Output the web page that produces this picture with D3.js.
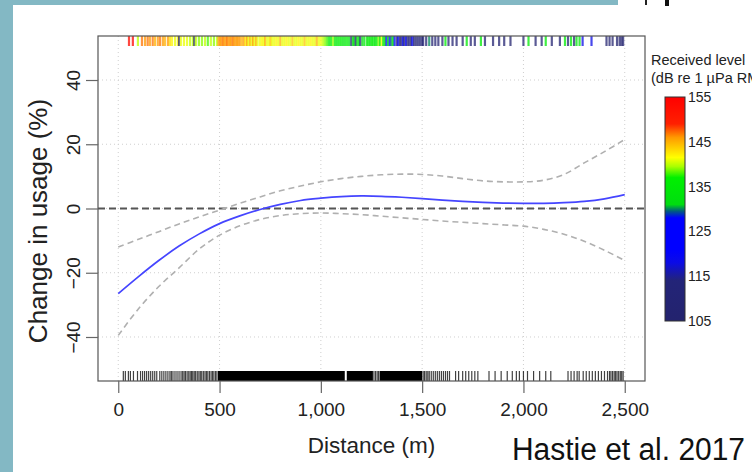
<!DOCTYPE html>
<html><head><meta charset="utf-8">
<script src="https://cdn.jsdelivr.net/npm/d3@7"></script>
<style>
html,body{margin:0;padding:0;background:#fff;overflow:hidden}
svg{display:block}
text{font-family:"Liberation Sans",Arial,Helvetica,sans-serif}
</style>
</head><body>
<svg id="chart" width="752" height="472"></svg>
<script>
// ---------------- data ----------------
const distances = [0,100,200,300,400,500,600,700,800,900,1000,1100,1200,1300,1400,1500,1600,1700,1800,1900,2000,2100,2200,2300,2400,2500];
const fitValues = [-26.5,-21.2,-16.2,-11.7,-7.9,-4.7,-2.3,-0.3,1.3,2.5,3.2,3.7,3.9,3.8,3.5,3.1,2.6,2.2,1.9,1.7,1.6,1.6,1.8,2.2,3.0,4.3];
const upperCI = [-12.0,-9.6,-7.2,-4.8,-2.6,-0.5,1.6,3.6,5.5,7.0,8.3,9.3,10.0,10.5,10.7,10.6,10.1,9.3,8.6,8.3,8.3,8.8,10.6,14.2,17.7,21.5];
const lowerCI = [-39.5,-31.2,-24.3,-18.5,-12.6,-8.3,-5.4,-3.4,-2.2,-1.6,-1.4,-1.6,-1.9,-2.4,-2.9,-3.4,-3.9,-4.3,-4.7,-5.1,-5.5,-6.5,-8.0,-10.2,-13.0,-16.2];

const xTicks = [0,500,1000,1500,2000,2500];
const yTicks = [-40,-20,0,20,40];
const legendTicks = [105,115,125,135,145,155];
const legendStops = [[105,"#23236e"],[114,"#232478"],[118,"#0b0be6"],[121,"#0000ff"],[128,"#0000ff"],[129.5,"#005a80"],[131,"#00dd10"],[137,"#00f000"],[139.5,"#aaff00"],[141.5,"#ffff00"],[146,"#ff9900"],[149,"#ff2000"],[155,"#ff0000"]];

// top rug: [distance (m), received level (dB)]
const topRug = [[53,153],[72,154],[97,140],[117,147],[132,146],[145,147],[156,146],[170,147],[181,145],[195,146],[206,147],[220,146],[230,145],[245,146],[255,143],
[265,142],[280,141],[294,142],[300,112],[309,141],[324,141],[339,141],[354,140],[368,140],[375,112],[383,140],[398,139],[413,139],[428,140],[442,138],[457,140],[472,139],[487,140],
[495,146],[502,146],[509,146],[516,147],[523,146],[530,146],[537,147],[544,146],[551,146],[558,146],[565,147],[572,146],[579,146],[586,146],[593,146],[600,146],
[610,145],[620,146],[628,142],[635,146],[642,141],[650,145],[658,141],[665,146],[672,141],[680,145],[688,141],
[700,141],[710,142],[718,141],[725,145],[735,141],[745,141],[752,144],[760,141],[770,141],[780,142],[790,141],[800,145],[810,141],[820,141],[830,142],[840,141],[850,141],[860,144],[870,141],[880,141],[890,142],[900,141],[910,141],[920,144],[930,141],[940,141],[950,142],[960,141],[970,141],[980,145],[990,141],[1000,141],
[1010,140],[1020,139],[1030,138],[1040,136],[1050,137],[1060,139],[1070,136],[1080,135],[1090,137],[1100,136],[1110,134],[1120,135],[1130,137],
[1140,132],[1150,110],[1158,133],[1165,131],[1172,110],[1180,134],[1188,132],[1195,110],[1205,133],[1215,134],
[1228,135],[1236,136],[1244,134],[1252,136],[1260,135],[1268,134],[1276,136],[1285,139],[1292,136],[1300,141],
[1308,135],[1316,132],[1324,126],[1332,134],[1340,120],[1348,130],[1356,135],[1364,124],
[1375,110],[1382,124],[1390,108],[1398,112],[1405,120],[1412,108],[1420,125],[1428,112],[1436,110],[1445,108],[1452,124],[1460,110],[1470,108],[1480,112],[1490,110],[1500,108],
[1505,110],[1520,108],[1535,130],[1550,108],[1565,110],[1580,108],[1600,108],[1615,135],[1630,108],[1650,108],[1670,108],[1700,108],[1720,135],[1740,108],[1760,108],[1790,135],[1810,108],[1850,108],[1880,108],[1905,108],[1936,106],
[2000,108],[2025,135],[2060,108],[2090,108],[2110,135],[2140,108],[2180,108],[2205,135],[2220,108],[2235,135],[2250,108],[2262,133],[2277,135],[2292,118],[2336,118],
[2410,106],[2425,106],[2440,106],[2462,106],[2475,106],[2484,106],[2492,106]];

// bottom rug: single observations and solid (saturated) spans, in metres
const bottomRug = [25,35,50,60,75,95,110,120,130,140,150,160,170,180,190,205,215,225,235,245,255,262,270,280,290,300,310,318,
325,332,340,348,355,362,368,375,382,390,398,405,412,420,428,435,442,450,458,465,472,480,487,
1262,1270,1278,1285,1505,1512,1520,1528,1535,1545,1555,1565,1575,1585,1595,1605,1615,1625,1635,
1665,1680,1700,1715,1730,1745,1760,1775,1830,1860,1890,1920,1945,1965,1980,2000,2020,2050,2080,2110,2135,
2220,2235,2250,2265,2275,2295,2310,2325,2340,2355,2370,2385,2400,2415,2425,2432,2440,2448,2455,2462,2470,2478,2485,2492];
const bottomRugSpans = [[492,1118],[1128,1257],[1290,1500]];

// ---------------- drawing ----------------
const svg = d3.select("#chart");
const teal = "#83b8c4";
svg.append("rect").attr("x",0).attr("y",0).attr("width",752).attr("height",472).attr("fill","#fff");
svg.append("rect").attr("x",0).attr("y",0).attr("width",618).attr("height",5).attr("fill",teal);
svg.append("rect").attr("x",0).attr("y",0).attr("width",13).attr("height",472).attr("fill",teal);
// fragments of neighbouring figure at top right
svg.append("rect").attr("x",645).attr("y",0).attr("width",2).attr("height",5).attr("fill","#222");
svg.append("rect").attr("x",665).attr("y",0).attr("width",4).attr("height",6).attr("fill","#111");

const L = 98, R = 645, T = 36, B = 381;
const x = d3.scaleLinear().domain([-100,2600]).range([L,R]);
const y = d3.scaleLinear().domain([-53.7,53.7]).range([B,T]);

const lvlColor = d3.scaleLinear().domain(legendStops.map(d=>d[0])).range(legendStops.map(d=>d[1])).clamp(true);

// grid
const g = svg.append("g");
g.selectAll(".vg").data(xTicks).join("line")
 .attr("x1",d=>x(d)).attr("x2",d=>x(d)).attr("y1",T).attr("y2",B)
 .attr("stroke","#cfcfcf").attr("stroke-dasharray","1,3");
g.selectAll(".hg").data(yTicks).join("line")
 .attr("x1",L).attr("x2",R).attr("y1",d=>y(d)).attr("y2",d=>y(d))
 .attr("stroke","#cfcfcf").attr("stroke-dasharray","1,3");

// zero line
svg.append("line").attr("x1",L).attr("x2",R).attr("y1",y(0)).attr("y2",y(0))
 .attr("stroke","#555").attr("stroke-width",2).attr("stroke-dasharray","7,4");

const line = (vals)=> d3.line().curve(d3.curveCatmullRom.alpha(0.5)).x((d,i)=>x(distances[i])).y(d=>y(d))(vals);
svg.append("path").attr("d",line(upperCI)).attr("fill","none").attr("stroke","#b0b0b0").attr("stroke-width",1.6).attr("stroke-dasharray","6,4");
svg.append("path").attr("d",line(lowerCI)).attr("fill","none").attr("stroke","#b0b0b0").attr("stroke-width",1.6).attr("stroke-dasharray","6,4");
svg.append("path").attr("d",line(fitValues)).attr("fill","none").attr("stroke","#4545ff").attr("stroke-width",1.7);

// rugs
const rugH = 10;
svg.append("g").selectAll("line").data(topRug).join("line")
 .attr("x1",d=>x(d[0])).attr("x2",d=>x(d[0])).attr("y1",T).attr("y2",T+rugH)
 .attr("stroke",d=>lvlColor(d[1])).attr("stroke-width",2.2).attr("stroke-opacity",0.75);
svg.append("g").selectAll("rect").data(bottomRugSpans).join("rect")
 .attr("x",d=>x(d[0])).attr("width",d=>x(d[1])-x(d[0])).attr("y",B-rugH).attr("height",rugH).attr("fill","#000");
svg.append("g").selectAll("line").data(bottomRug).join("line")
 .attr("x1",d=>x(d)).attr("x2",d=>x(d)).attr("y1",B-rugH).attr("y2",B)
 .attr("stroke","#000").attr("stroke-width",1.2).attr("stroke-opacity",0.75);

// frame
svg.append("rect").attr("x",L).attr("y",T).attr("width",R-L).attr("height",B-T)
 .attr("fill","none").attr("stroke","#555").attr("stroke-width",1.2);

// x axis
const xa = svg.append("g").attr("transform",`translate(0,${B})`)
 .call(d3.axisBottom(x).tickValues(xTicks).tickSize(12).tickPadding(10).tickFormat(d3.format(",")));
xa.select(".domain").remove();
xa.selectAll(".tick line").attr("stroke","#666").attr("stroke-width",1.2);
xa.selectAll(".tick text").attr("font-size",19).attr("fill","#222")
 .attr("font-family",'"Liberation Sans",Arial,sans-serif');

// y axis
const ya = svg.append("g").attr("transform",`translate(${L},0)`)
 .call(d3.axisLeft(y).tickValues(yTicks).tickSize(12).tickFormat(d=>d<0?"\u2212"+Math.abs(d):String(d)));
ya.select(".domain").remove();
ya.selectAll(".tick line").attr("stroke","#666").attr("stroke-width",1.2);
ya.selectAll(".tick text").attr("font-size",19).attr("fill","#222")
 .attr("font-family",'"Liberation Sans",Arial,sans-serif')
 .attr("x",null).attr("dy",null).attr("text-anchor","middle")
 .attr("transform","translate(-18,0) rotate(-90)");

// titles
svg.append("text").attr("x",(L+R)/2).attr("y",453).attr("text-anchor","middle")
 .attr("font-size",22.5).attr("fill","#222").text("Distance (m)");
svg.append("text").attr("transform","translate(47,221) rotate(-90)").attr("text-anchor","middle")
 .attr("font-size",26).attr("fill","#222").text("Change in usage (%)");
svg.append("text").attr("x",512).attr("y",460).attr("font-size",31).attr("fill","#111")
 .attr("textLength",233).attr("lengthAdjust","spacingAndGlyphs").text("Hastie et al. 2017");

// legend
svg.append("text").attr("x",651).attr("y",65).attr("font-size",14.5).attr("fill","#222").text("Received level");
svg.append("text").attr("x",651).attr("y",83).attr("font-size",14.5).attr("fill","#222").text("(dB re 1 \u00b5Pa RMS)");

const ly = d3.scaleLinear().domain([105,155]).range([321,97]);
const defs = svg.append("defs");
const grad = defs.append("linearGradient").attr("id","rl").attr("x1",0).attr("x2",0).attr("y1",1).attr("y2",0);
grad.selectAll("stop").data(legendStops).join("stop")
 .attr("offset",d=>(d[0]-105)/50).attr("stop-color",d=>d[1]);
svg.append("rect").attr("x",665).attr("y",ly(155)).attr("width",20).attr("height",ly(105)-ly(155))
 .attr("fill","url(#rl)").attr("stroke","#333").attr("stroke-width",1);
svg.append("g").selectAll("text").data(legendTicks).join("text")
 .attr("x",688).attr("y",d=>ly(d)).attr("dy","0.35em").attr("font-size",14).attr("fill","#222").text(d=>d);
</script>
</body></html>
